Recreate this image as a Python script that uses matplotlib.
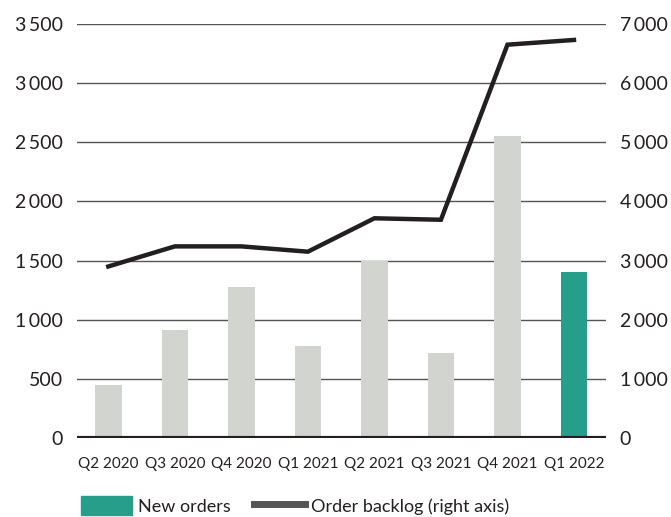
import matplotlib.pyplot as plt
from matplotlib.patches import Patch
from matplotlib.lines import Line2D
from matplotlib.ticker import FuncFormatter

plt.rcParams['font.family'] = ['Lato', 'DejaVu Sans']

quarters = ['Q2 2020', 'Q3 2020', 'Q4 2020', 'Q1 2021',
            'Q2 2021', 'Q3 2021', 'Q4 2021', 'Q1 2022']
new_orders = [445, 910, 1280, 780, 1495, 715, 2550, 1405]
order_backlog = [2900, 3240, 3240, 3150, 3715, 3690, 6650, 6730]

grey = '#d2d4cf'
teal = '#279e8a'
dark = '#231f20'

fig = plt.figure(figsize=(6.71, 5.17), dpi=100)
ax = fig.add_axes([0.1148, 0.1528, 0.7882, 0.8008])
ax2 = ax.twinx()

colors = [grey] * (len(quarters) - 1) + [teal]
x = range(len(quarters))
ax.bar(x, new_orders, width=0.4, color=colors, zorder=2)
ax2.plot(x, order_backlog, color=dark, lw=3.2, solid_joinstyle='miter', zorder=3)

ax.set_ylim(0, 3500)
ax2.set_ylim(0, 7000)
ax.set_xlim(-0.47, 7.48)
ax.set_yticks(range(0, 3501, 500))
ax2.set_yticks(range(0, 7001, 1000))

fmt = FuncFormatter(lambda v, p: f'{int(v):,}'.replace(',', '\u2009'))
ax.yaxis.set_major_formatter(fmt)
ax2.yaxis.set_major_formatter(fmt)

ax.grid(axis='y', color='#555555', lw=1, zorder=0)
ax.axhline(0, color=dark, lw=3, zorder=4)

for a in (ax, ax2):
    for s in a.spines.values():
        s.set_visible(False)
    a.tick_params(axis='y', length=0, labelsize=14, colors='#231f20', pad=10)

ax.set_xticks(list(x))
ax.set_xticklabels(quarters)
ax.tick_params(axis='x', length=0, labelsize=11, colors='#231f20', pad=14)

handles = [Patch(color=teal, label='New orders'),
           Line2D([0], [0], color='#555555', lw=5, label='Order backlog (right axis)')]
fig.legend(handles=handles, loc='lower left', bbox_to_anchor=(0.1207, 0.004),
           ncol=2, frameon=False, fontsize=13, handlelength=2.8,
           handleheight=1.2, handletextpad=0.35, columnspacing=1.3,
           borderpad=0, borderaxespad=0, labelcolor='#231f20')

fig.savefig('out.png', dpi=100)
